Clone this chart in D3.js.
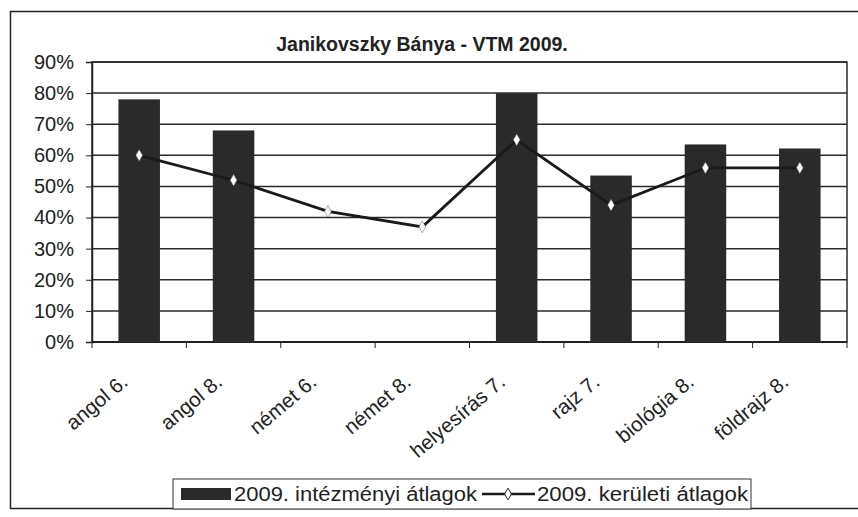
<!DOCTYPE html>
<html><head><meta charset="utf-8">
<script src="https://cdn.jsdelivr.net/npm/d3@7"></script>
<style>body{margin:0;background:#fff}</style>
</head><body>
<svg id="c" width="858" height="517"></svg>
<script>
const categories = ["angol 6.","angol 8.","német 6.","német 8.","helyesírás 7.","rajz 7.","biológia 8.","földrajz 8."];
const barValues = [78, 68, null, null, 80, 53.5, 63.5, 62.2];
const lineValues = [60, 52, 42, 37, 65, 44, 56, 56];
const yTicks = [0,10,20,30,40,50,60,70,80,90];
const title = "Janikovszky Bánya - VTM 2009.";
const seriesNames = ["2009. intézményi átlagok","2009. kerületi átlagok"];

const svg = d3.select("#c");
const font = "Arial, 'Liberation Sans', sans-serif";
// outer frame
svg.append("rect").attr("x",10.5).attr("y",11.5).attr("width",860).attr("height",497)
  .attr("fill","none").attr("stroke","#222").attr("stroke-width",1.5);

const L=92, R=847, T=62, B=342;
const x = d3.scaleBand().domain(categories).range([L,R]).paddingInner(0).paddingOuter(0);
const y = d3.scaleLinear().domain([0,90]).range([B,T]);

// gridlines
svg.append("g").selectAll("line").data(yTicks).join("line")
  .attr("x1",L).attr("x2",R).attr("y1",d=>y(d)).attr("y2",d=>y(d))
  .attr("stroke","#2a2a2a").attr("stroke-width",1.5);
// plot border
svg.append("rect").attr("x",L).attr("y",T).attr("width",R-L).attr("height",B-T)
  .attr("fill","none").attr("stroke","#2a2a2a").attr("stroke-width",1.5);

// y axis
const ya = svg.append("g").attr("transform",`translate(${L},0)`)
  .call(d3.axisLeft(y).tickValues(yTicks).tickFormat(d=>d+"%").tickSize(6).tickPadding(12));
ya.select(".domain").attr("stroke","#222").attr("stroke-width",1.5);
ya.selectAll(".tick line").attr("stroke","#222");
ya.selectAll("text").attr("font-family",font).attr("font-size",20).attr("fill","#222");

// x axis ticks at boundaries
const bounds = categories.map((c,i)=>x(c)).concat([R]);
svg.append("line").attr("x1",L).attr("x2",R).attr("y1",B).attr("y2",B).attr("stroke","#222").attr("stroke-width",1.8);
svg.append("g").selectAll("line").data(bounds).join("line")
  .attr("x1",d=>d).attr("x2",d=>d).attr("y1",B).attr("y2",B+6).attr("stroke","#222");

// bars
const bw = x.bandwidth()*0.44;
svg.append("g").selectAll("rect").data(categories.map((c,i)=>({c,v:barValues[i]})).filter(d=>d.v!=null))
  .join("rect")
  .attr("x",d=>x(d.c)+x.bandwidth()/2-bw/2).attr("width",bw)
  .attr("y",d=>y(d.v)).attr("height",d=>B-y(d.v))
  .attr("fill","#2a2a2a");

// line
const pts = categories.map((c,i)=>[x(c)+x.bandwidth()/2, y(lineValues[i])]);
svg.append("path").attr("d",d3.line()(pts)).attr("fill","none").attr("stroke","#1a1a1a").attr("stroke-width",2.8);
const diamond = d3.symbol().type(d3.symbolDiamond).size(40);
svg.append("g").selectAll("path").data(pts).join("path")
  .attr("d",diamond).attr("transform",d=>`translate(${d[0]},${d[1]})`)
  .attr("fill","#fff").attr("stroke","#555").attr("stroke-width",0.5);

// x labels
svg.append("g").selectAll("text").data(categories).join("text")
  .attr("transform",c=>`translate(${x(c)+x.bandwidth()/2-10},${B+42}) rotate(-40)`)
  .attr("text-anchor","end").attr("font-family",font).attr("font-size",20.5).attr("fill","#222")
  .text(c=>c);

// title
svg.append("text").attr("x",422).attr("y",51).attr("text-anchor","middle")
  .attr("font-family",font).attr("font-size",19.5).attr("font-weight","bold").attr("fill","#222").text(title);

// legend
const lg = svg.append("g");
lg.append("rect").attr("x",173).attr("y",479).attr("width",578).attr("height",30)
  .attr("fill","#fff").attr("stroke","#333").attr("stroke-width",1);
lg.append("rect").attr("x",181).attr("y",488).attr("width",50).attr("height",12).attr("fill","#2a2a2a");
lg.append("text").attr("x",234).attr("y",501).attr("font-family",font).attr("font-size",20)
  .attr("textLength",243).attr("lengthAdjust","spacingAndGlyphs").attr("fill","#222").text(seriesNames[0]);
lg.append("line").attr("x1",482).attr("x2",535).attr("y1",494).attr("y2",494).attr("stroke","#1a1a1a").attr("stroke-width",2.5);
lg.append("path").attr("d",diamond).attr("transform","translate(508,494)").attr("fill","#fff").attr("stroke","#222").attr("stroke-width",1);
lg.append("text").attr("x",537).attr("y",501).attr("font-family",font).attr("font-size",20)
  .attr("textLength",211).attr("lengthAdjust","spacingAndGlyphs").attr("fill","#222").text(seriesNames[1]);
</script>
</body></html>
